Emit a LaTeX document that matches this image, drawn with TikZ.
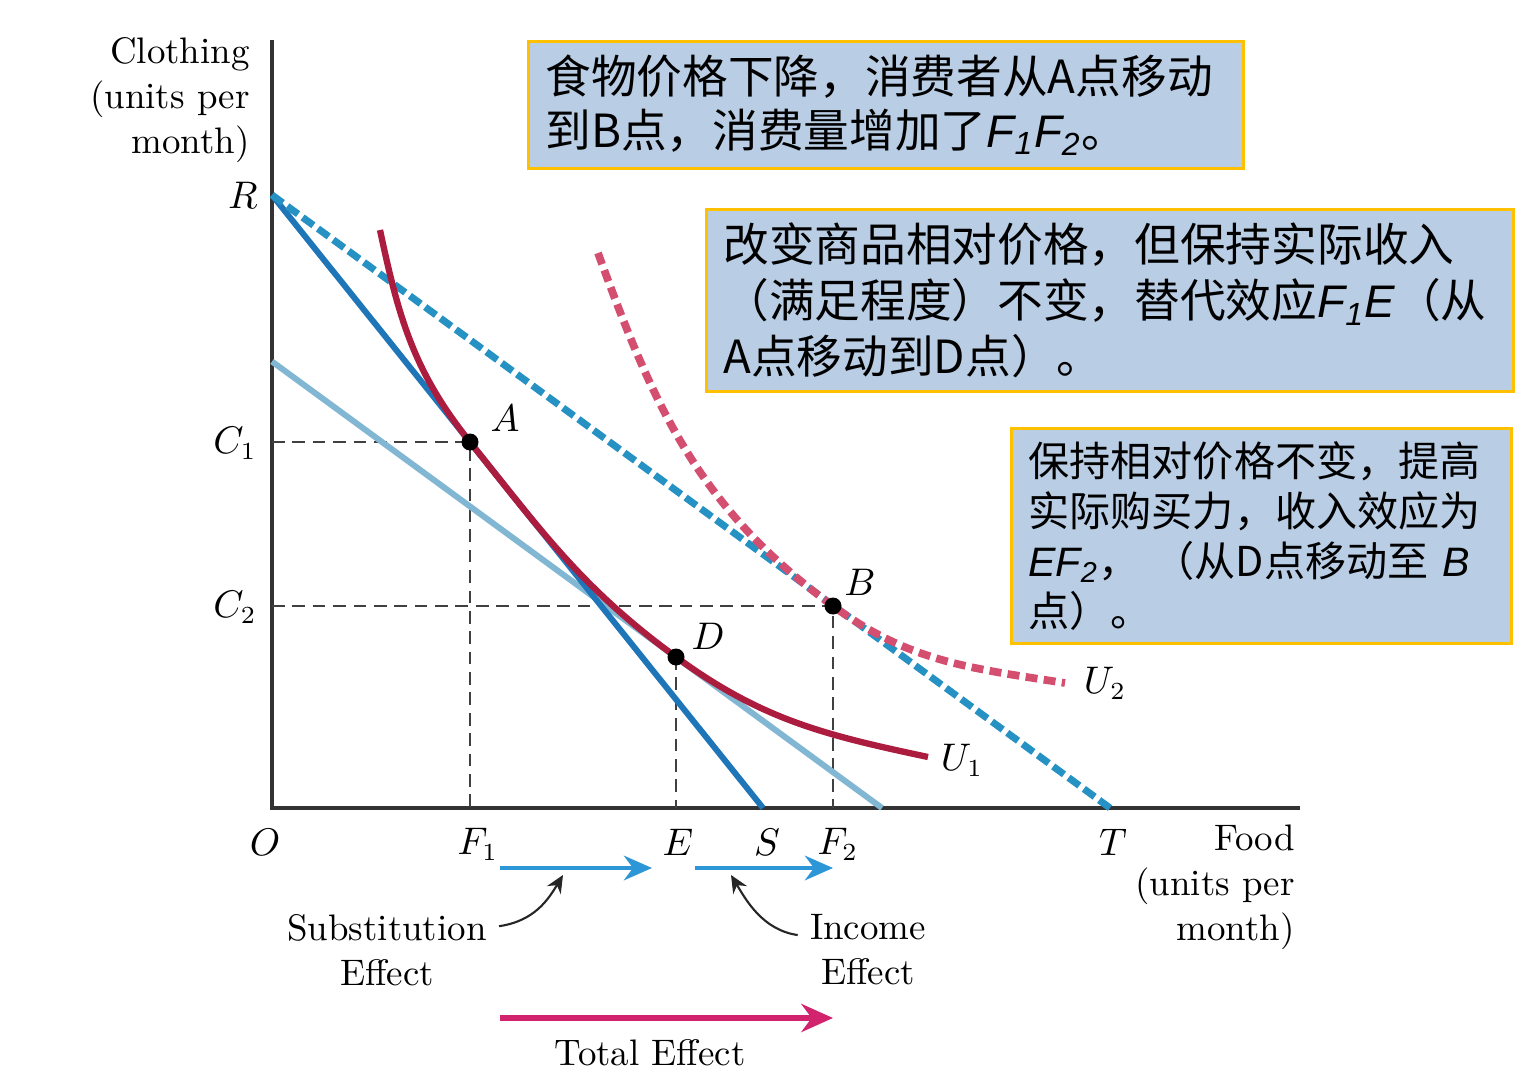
\documentclass[tikz,border=0pt]{standalone}
\usepackage{fontspec}
\newfontfamily\cjk{Noto Sans CJK SC}
\newfontfamily\arial{Liberation Sans}
\usetikzlibrary{arrows.meta, calc}

\definecolor{budget}{RGB}{30,118,185}
\definecolor{budgetlt}{RGB}{130,183,212}
\definecolor{budgetdash}{RGB}{38,145,195}
\definecolor{curveone}{RGB}{172,28,62}
\definecolor{curvetwo}{RGB}{212,78,112}
\definecolor{notefill}{RGB}{185,205,228}
\definecolor{noteedge}{RGB}{255,192,0}
\definecolor{effect}{RGB}{45,150,215}
\definecolor{total}{RGB}{210,35,110}

\newcommand{\itx}[1]{{\arial\itshape #1}}

\begin{document}
\begin{tikzpicture}[>=Stealth,
    font=\fontsize{10.5}{12.8}\selectfont,
    guide/.style={dash pattern=on 3.6pt off 2.2pt, line width=0.7pt, black!75},
    dot/.style={circle, fill=black, inner sep=0pt, minimum size=0.17cm},
    note/.style={draw=noteedge, line width=0.8pt, fill=notefill, anchor=north west,
        align=left, inner xsep=0.17cm, inner ysep=0pt, text=black}
]
    \useasboundingbox (0,0) rectangle (15.26,10.90);

    % Coordinates
    \coordinate (O) at (2.72,2.82);      % Origin
    \coordinate (Ytop) at (2.72,10.50);  % end of clothing axis
    \coordinate (Xend) at (13.00,2.82);  % end of food axis
    \coordinate (R) at (2.72,8.95);      % budget line intercepts
    \coordinate (S) at (7.63,2.82);
    \coordinate (T) at (11.10,2.82);
    \coordinate (Rp) at (2.72,7.285);    % shifted line, parallel to RT
    \coordinate (Sp) at (8.82,2.82);
    \coordinate (C1) at (2.72,6.48);
    \coordinate (C2) at (2.72,4.84);
    \coordinate (F1) at (4.70,2.82);
    \coordinate (E) at (6.76,2.82);
    \coordinate (F2) at (8.33,2.82);

    % 1. Axes
    \draw[black!80, line width=0.9pt] (Ytop) -- (O) -- (Xend);

    % 2. Dashed guides to the axes
    \draw[guide] (C1) -- (4.70,6.48) -- (F1);
    \draw[guide] (C2) -- (8.33,4.84) -- (F2);
    \draw[guide] (6.76,4.33) -- (E);

    % 3. Budget lines
    \draw[budgetlt, line width=1.7pt] (Rp) -- (Sp);
    \draw[budget, line width=1.7pt] (R) -- (S);
    \draw[budgetdash, line width=2pt, dash pattern=on 3.8pt off 1.6pt] (R) -- (T);

    % 4. Indifference curves
    \draw[curveone, line width=1.8pt] (3.80,8.60) to[out=-78, in=128.7] (4.70,6.48)
        to[out=-51.3, in=143.8] (6.76,4.33) to[out=-36.2, in=168] (9.28,3.33);
    \draw[curvetwo, line width=2.2pt, dash pattern=on 3.4pt off 1.8pt] (5.98,8.37)
        to[out=-70, in=143.8] (8.33,4.84) to[out=-36.2, in=171] (10.65,4.07);

    % 5. Choice points
    \node[dot] (A) at (4.70,6.48) {};
    \node[dot] (B) at (8.33,4.84) {};
    \node[dot] (D) at (6.76,4.33) {};
    \node (Alab) at (5.05,6.72) {$A$};
    \node (Blab) at (8.60,5.08) {$B$};
    \node (Dlab) at (7.08,4.54) {$D$};
    \node (U1lab) at (9.62,3.30) {$U_1$};
    \node (U2lab) at (11.05,4.07) {$U_2$};

    % 6. Axis labels
    \node[anchor=east, align=right] (ylab) at (2.62,9.90) {Clothing\\(units per\\month)};
    \node[anchor=east, align=right] (xlab) at (13.07,2.03) {Food\\(units per\\month)};
    \node (Rlab) at (2.43,8.95) {$R$};
    \node (C1lab) at (2.35,6.47) {$C_1$};
    \node (C2lab) at (2.35,4.83) {$C_2$};
    \node (Olab) at (2.65,2.48) {$O$};
    \node (F1lab) at (4.78,2.46) {$F_1$};
    \node (Elab) at (6.78,2.48) {$E$};
    \node (Slab) at (7.67,2.48) {$S$};
    \node (F2lab) at (8.38,2.46) {$F_2$};
    \node (Tlab) at (11.13,2.48) {$T$};

    % 7. Effect arrows
    \coordinate (subL) at (5.00,2.22);
    \coordinate (subR) at (6.52,2.22);
    \coordinate (incL) at (6.95,2.22);
    \coordinate (incR) at (8.33,2.22);
    \coordinate (totL) at (5.00,0.72);
    \coordinate (totR) at (8.33,0.72);
    \draw[effect, line width=1.2pt, -{Stealth[length=8pt, width=7pt]}] (subL) -- (subR);
    \draw[effect, line width=1.2pt, -{Stealth[length=8pt, width=7pt]}] (incL) -- (incR);
    \draw[total, line width=1.6pt, -{Stealth[length=9pt, width=8pt]}] (totL) -- (totR);

    \node[align=center] (sublab) at (3.87,1.40) {Substitution\\Effect};
    \node[align=center] (inclab) at (8.68,1.40) {Income\\Effect};
    \node (totlab) at (6.50,0.37) {Total Effect};

    \coordinate (subpt) at (5.63,2.15);
    \coordinate (incpt) at (7.31,2.15);
    \draw[black!85, line width=0.6pt, -{Stealth[length=5pt, width=4.5pt]}]
        (sublab.12) .. controls +(0.35,0.05) and +(-0.15,-0.25) .. (subpt);
    \draw[black!85, line width=0.6pt, -{Stealth[length=5pt, width=4.5pt]}]
        (inclab.168) .. controls +(-0.35,0.05) and +(0.15,-0.25) .. (incpt);

    % 8. Notes
    \node[note, minimum width=7.15cm, minimum height=1.27cm, text width=6.81cm,
        font=\cjk\fontsize{13}{15.4}\selectfont] (note1) at (5.27,10.50)
        {食物价格下降，消费者从A点移动\\到B点，消费量增加了\itx{F\textsubscript{1}F\textsubscript{2}}。};
    \node[note, minimum width=8.07cm, minimum height=1.82cm, text width=7.73cm,
        font=\cjk\fontsize{13}{15.9}\selectfont] (note2) at (7.05,8.82)
        {改变商品相对价格，但保持实际收入\\（满足程度）不变，替代效应\itx{F\textsubscript{1}E}（从\\A点移动到D点）。};
    \node[note, minimum width=5.00cm, minimum height=2.15cm, text width=4.66cm,
        font=\cjk\fontsize{11.7}{14.2}\selectfont] (note3) at (10.10,6.63)
        {保持相对价格不变，提高\\实际购买力，收入效应为\\\itx{EF\textsubscript{2}}，\ （从D点移动至 \itx{B}\\点）。};

\end{tikzpicture}
\end{document}
